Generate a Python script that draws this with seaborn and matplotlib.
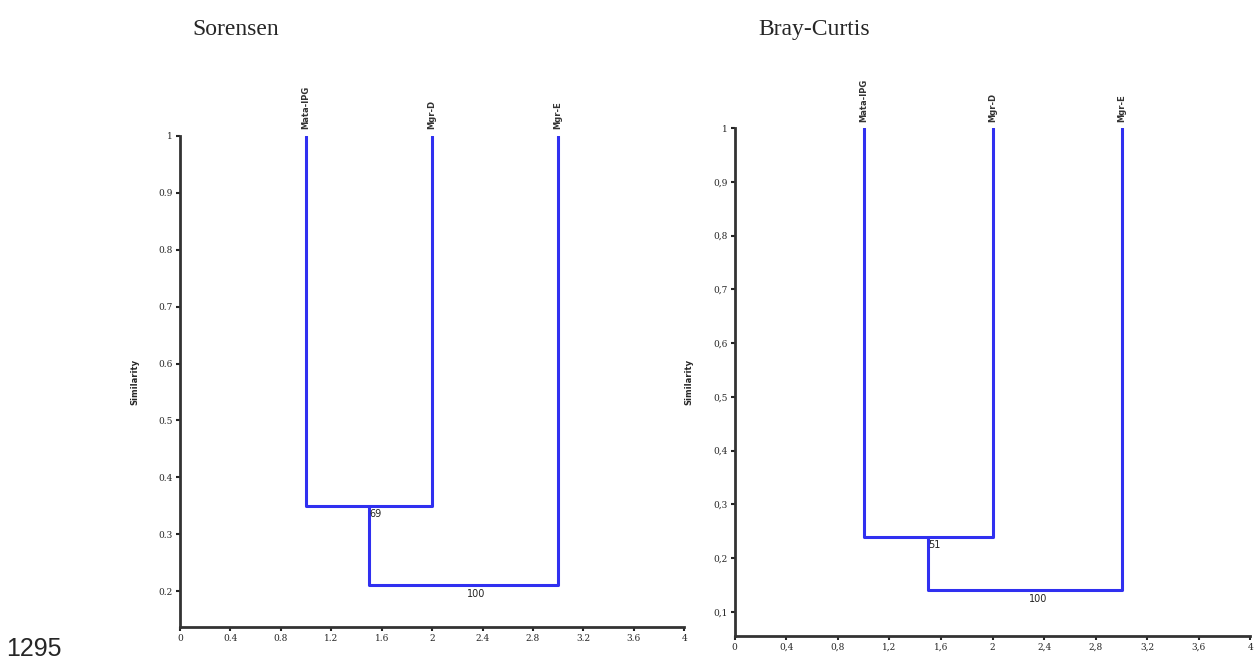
import numpy as np
import pandas as pd
import matplotlib
matplotlib.use("Agg")
import matplotlib.pyplot as plt
import seaborn as sns

sns.set_style("ticks")
plt.rcParams['font.family'] = ['DejaVu Sans']

# ---- data ----
leaf_labels = ["Mata-IPG", "Mgr-D", "Mgr-E"]
sor_merge_heights = [0.35, 0.21]
sor_support = ["69", "100"]
bc_merge_heights = [0.24, 0.14]
bc_support = ["51", "100"]
sor_yticks = [0.2, 0.3, 0.4, 0.5, 0.6, 0.7, 0.8, 0.9, 1.0]
sor_yticklabels = ["0.2", "0.3", "0.4", "0.5", "0.6", "0.7", "0.8", "0.9", "1"]
bc_yticks = [0.1, 0.2, 0.3, 0.4, 0.5, 0.6, 0.7, 0.8, 0.9, 1.0]
bc_yticklabels = ["0,1", "0,2", "0,3", "0,4", "0,5", "0,6", "0,7", "0,8", "0,9", "1"]
xticks = [0, 0.4, 0.8, 1.2, 1.6, 2, 2.4, 2.8, 3.2, 3.6, 4]
sor_xticklabels = ["0", "0.4", "0.8", "1.2", "1.6", "2", "2.4", "2.8", "3.2", "3.6", "4"]
bc_xticklabels = ["0", "0,4", "0,8", "1,2", "1,6", "2", "2,4", "2,8", "3,2", "3,6", "4"]

BLUE = "#3030f0"


def segments(heights):
    # leaves at x = 1,2,3 ; first merge joins leaves 1 & 2, second joins that cluster with leaf 3
    h1, h2 = heights
    c1 = 1.5
    rows = []
    segs = [
        [(1, 1.0), (1, h1), (2, h1), (2, 1.0)],
        [(c1, h1), (c1, h2), (3, h2), (3, 1.0)],
    ]
    for i, s in enumerate(segs):
        for j, (x, y) in enumerate(s):
            rows.append(dict(seg=i, order=j, x=x, y=y))
    return pd.DataFrame(rows)


fig = plt.figure(figsize=(12.58, 6.64), dpi=100)
ax1 = fig.add_axes([0.143, 0.0557, 0.401, 0.7395])
ax2 = fig.add_axes([0.584, 0.042, 0.410, 0.765])


def draw(ax, heights, support, yticks, yticklabels, xticklabels, ylim_low, title, title_x):
    df = segments(heights)
    sns.lineplot(data=df, x="x", y="y", units="seg", estimator=None, sort=False,
                 color=BLUE, lw=2.2, ax=ax, legend=False)
    ax.set_xlim(0, 4)
    ax.set_ylim(ylim_low, 1.0)
    ax.set_xticks(xticks)
    ax.set_xticklabels(xticklabels, fontsize=6.5, family="DejaVu Serif")
    ax.set_yticks(yticks)
    ax.set_yticklabels(yticklabels, fontsize=6.5, family="DejaVu Serif")
    ax.tick_params(length=3, width=1.5, pad=2)
    for sp in ["top", "right"]:
        ax.spines[sp].set_visible(False)
    for sp in ["left", "bottom"]:
        ax.spines[sp].set_linewidth(2)
        ax.spines[sp].set_color("#333333")
    ax.set_xlabel("")
    ax.set_ylabel("Similarity", fontsize=6, fontweight="bold", labelpad=14)
    for i, lab in enumerate(leaf_labels):
        ax.text(i + 1, 1.012, lab, rotation=90, ha="center", va="bottom",
                fontsize=6, fontweight="bold", color="#333333")
    ax.text(1.55, heights[0] - 0.006, support[0], ha="center", va="top", fontsize=7, color="#222222")
    ax.text(2.35, heights[1] - 0.006, support[1], ha="center", va="top", fontsize=7, color="#222222")
    fig.text(title_x, 0.955, title, fontsize=17, family="Liberation Serif", ha="left", va="center")


draw(ax1, sor_merge_heights, sor_support, sor_yticks, sor_yticklabels, sor_xticklabels,
     0.137, "Sorensen", 0.153)
draw(ax2, bc_merge_heights, bc_support, bc_yticks, bc_yticklabels, bc_xticklabels,
     0.055, "Bray-Curtis", 0.603)

fig.text(0.005, 0.004, "1295", fontsize=18, family="Liberation Sans", ha="left", va="bottom")

fig.savefig("out.png", dpi=100)
